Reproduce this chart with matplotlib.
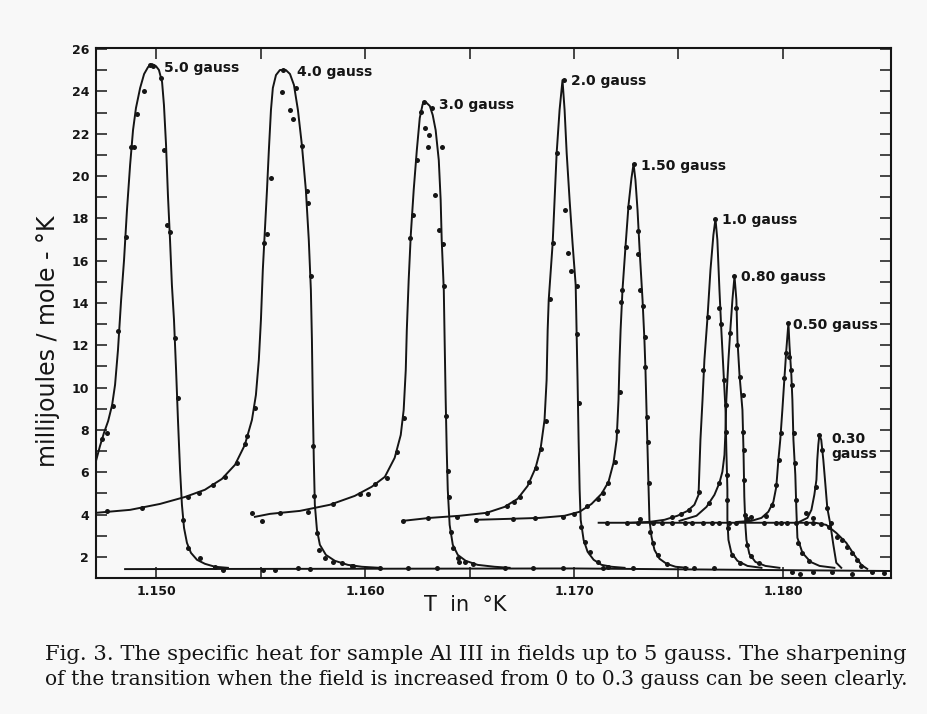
import matplotlib
matplotlib.use("Agg")
import matplotlib.pyplot as plt

# Calor especifico (mJ/mol-K) vs T (K), leido de la figura
# --- curvas (linea) y puntos medidos para cada campo ---
t_50 = [1.14713, 1.14732, 1.14751, 1.14771, 1.14790, 1.14804, 1.14818, 1.14833, 1.14847, 1.14861,
        1.14876, 1.14890, 1.14904, 1.14924, 1.14943, 1.14962, 1.14981, 1.15000, 1.15014, 1.15029,
        1.15038, 1.15048, 1.15057, 1.15067, 1.15076, 1.15086, 1.15096, 1.15105, 1.15115, 1.15124,
        1.15134, 1.15148, 1.15167, 1.15196, 1.15234, 1.15282, 1.15344]
c_50 = [6.54, 7.24, 7.86, 8.42, 9.18, 10.13, 11.78, 14.14, 16.03, 18.39,
        20.52, 22.17, 23.21, 24.16, 24.82, 25.15, 25.29, 25.19, 25.01, 24.44,
        23.35, 21.46, 19.10, 16.98, 14.85, 13.20, 10.83, 8.47, 6.11, 4.46,
        3.37, 2.66, 2.19, 1.86, 1.67, 1.53, 1.48]
pt_50 = [1.14742, 1.14766, 1.14794, 1.14818, 1.14857, 1.14880, 1.14895, 1.14909, 1.14943, 1.14971,
         1.14986, 1.15024, 1.15038, 1.15053, 1.15067, 1.15091, 1.15105, 1.15129, 1.15153, 1.15210,
         1.15282, 1.15320]
pc_50 = [7.57, 7.86, 9.13, 12.68, 17.12, 21.37, 21.37, 22.93, 24.01, 25.24,
         25.19, 24.63, 21.23, 17.68, 17.35, 12.35, 9.51, 3.75, 2.43, 1.95,
         1.53, 1.39]

t_40 = [1.14713, 1.14876, 1.15019, 1.15139, 1.15234, 1.15315, 1.15378, 1.15425, 1.15459, 1.15478,
        1.15492, 1.15502, 1.15511, 1.15521, 1.15531, 1.15540, 1.15550, 1.15559, 1.15574, 1.15593,
        1.15621, 1.15641, 1.15660, 1.15679, 1.15698, 1.15717, 1.15731, 1.15741, 1.15746, 1.15750,
        1.15755, 1.15760, 1.15770, 1.15784, 1.15813, 1.15856, 1.15918, 1.15985, 1.16071]
c_40 = [4.08, 4.22, 4.50, 4.83, 5.17, 5.68, 6.35, 7.29, 8.47, 9.65,
        11.31, 13.20, 15.56, 17.45, 19.34, 21.23, 23.12, 24.16, 24.77, 25.01,
        25.01, 24.82, 24.30, 23.12, 21.46, 19.34, 16.98, 14.61, 12.25, 9.42,
        6.58, 4.46, 3.28, 2.57, 2.09, 1.81, 1.62, 1.53, 1.48]
pt_40 = [1.14766, 1.14933, 1.15153, 1.15206, 1.15272, 1.15330, 1.15387, 1.15425, 1.15435, 1.15473,
         1.15516, 1.15531, 1.15550, 1.15602, 1.15607, 1.15641, 1.15655, 1.15669, 1.15698, 1.15722,
         1.15727, 1.15741, 1.15750, 1.15755, 1.15770, 1.15779, 1.15808, 1.15846, 1.15889, 1.15937]
pc_40 = [4.17, 4.31, 4.83, 5.02, 5.40, 5.78, 6.44, 7.34, 7.72, 9.04,
         16.83, 17.26, 19.90, 23.97, 25.01, 23.12, 22.69, 24.16, 21.42, 19.29,
         18.72, 15.27, 7.24, 4.88, 3.13, 2.33, 1.95, 1.76, 1.72, 1.57]

t_30 = [1.15473, 1.15545, 1.15688, 1.15832, 1.15951, 1.16032, 1.16095, 1.16142, 1.16171, 1.16185,
        1.16195, 1.16200, 1.16209, 1.16219, 1.16233, 1.16248, 1.16262, 1.16276, 1.16291, 1.16310,
        1.16324, 1.16338, 1.16353, 1.16362, 1.16367, 1.16377, 1.16381, 1.16386, 1.16391, 1.16396,
        1.16405, 1.16420, 1.16444, 1.16482, 1.16539, 1.16620, 1.16692]
c_30 = [3.89, 4.03, 4.17, 4.46, 4.88, 5.31, 5.78, 6.68, 7.76, 8.94,
        10.83, 12.72, 15.09, 17.21, 19.34, 21.23, 22.74, 23.40, 23.49, 23.31,
        22.88, 22.17, 20.75, 18.86, 16.98, 14.61, 12.25, 9.42, 7.05, 5.17,
        3.51, 2.57, 2.09, 1.81, 1.62, 1.53, 1.48]
pt_30 = [1.15459, 1.15507, 1.15593, 1.15727, 1.15846, 1.15975, 1.16013, 1.16047, 1.16104, 1.16152,
         1.16185, 1.16214, 1.16228, 1.16248, 1.16267, 1.16281, 1.16286, 1.16305, 1.16300, 1.16319,
         1.16367, 1.16334, 1.16353, 1.16372, 1.16377, 1.16386, 1.16396, 1.16401, 1.16410, 1.16420,
         1.16444, 1.16477, 1.16516]
pc_30 = [4.08, 3.70, 4.08, 4.13, 4.50, 4.98, 4.98, 5.45, 5.73, 6.96,
         8.57, 17.07, 18.16, 20.75, 23.02, 23.49, 22.27, 21.94, 21.37, 23.21,
         21.37, 19.10, 17.45, 16.79, 14.80, 8.66, 6.06, 4.83, 3.18, 2.43,
         1.95, 1.76, 1.67]

t_20 = [1.16181, 1.16310, 1.16453, 1.16582, 1.16668, 1.16730, 1.16778, 1.16816, 1.16840, 1.16859,
        1.16869, 1.16874, 1.16879, 1.16898, 1.16917, 1.16931, 1.16945, 1.16955, 1.16965, 1.16979,
        1.16993, 1.17008, 1.17012, 1.17017, 1.17022, 1.17027, 1.17032, 1.17046, 1.17065, 1.17094,
        1.17132, 1.17180, 1.17242]
c_20 = [3.70, 3.84, 3.94, 4.08, 4.36, 4.74, 5.35, 6.20, 7.10, 8.47,
        10.36, 12.72, 14.14, 16.83, 21.08, 23.12, 24.53, 23.12, 21.08, 18.86,
        16.83, 14.85, 12.87, 10.36, 7.53, 5.17, 3.75, 2.80, 2.24, 1.86,
        1.62, 1.53, 1.48]
pt_20 = [1.16181, 1.16300, 1.16439, 1.16582, 1.16678, 1.16711, 1.16740, 1.16783, 1.16816, 1.16840,
         1.16864, 1.16883, 1.16898, 1.16917, 1.16950, 1.16955, 1.16969, 1.16988, 1.17012, 1.17012,
         1.17022, 1.17032, 1.17055, 1.17075, 1.17113, 1.17161]
pc_20 = [3.70, 3.84, 3.89, 4.08, 4.41, 4.60, 4.83, 5.54, 6.20, 7.10,
         8.42, 14.19, 16.83, 21.08, 24.53, 18.39, 16.36, 15.51, 14.80, 12.53,
         9.27, 3.42, 2.71, 2.24, 1.76, 1.53]

t_15 = [1.16530, 1.16706, 1.16836, 1.16955, 1.17027, 1.17084, 1.17132, 1.17165, 1.17189, 1.17204,
        1.17213, 1.17218, 1.17223, 1.17232, 1.17247, 1.17261, 1.17275, 1.17285, 1.17294, 1.17304,
        1.17314, 1.17328, 1.17337, 1.17342, 1.17347, 1.17352, 1.17357, 1.17361, 1.17371, 1.17385,
        1.17409, 1.17443, 1.17486, 1.17543]
c_15 = [3.75, 3.80, 3.84, 3.94, 4.13, 4.50, 4.98, 5.54, 6.44, 7.53,
        9.42, 11.31, 12.72, 14.61, 16.74, 18.63, 19.90, 20.57, 19.81, 18.39,
        16.50, 14.14, 12.25, 10.83, 8.94, 7.05, 5.17, 3.75, 2.94, 2.33,
        1.91, 1.67, 1.53, 1.48]
pt_15 = [1.16530, 1.16706, 1.16812, 1.16945, 1.16998, 1.17060, 1.17113, 1.17137, 1.17165, 1.17194,
         1.17208, 1.17218, 1.17227, 1.17232, 1.17251, 1.17261, 1.17285, 1.17304, 1.17304, 1.17314,
         1.17328, 1.17342, 1.17342, 1.17347, 1.17352, 1.17357, 1.17366, 1.17376, 1.17400, 1.17443]
pc_15 = [3.75, 3.80, 3.84, 3.89, 4.03, 4.41, 4.74, 5.02, 5.50, 6.49,
         7.95, 9.79, 14.05, 14.61, 16.64, 18.53, 20.57, 17.40, 16.31, 14.61,
         13.86, 12.39, 10.98, 8.61, 7.43, 5.50, 3.18, 2.66, 2.09, 1.67]

t_10 = [1.17266, 1.17361, 1.17433, 1.17495, 1.17543, 1.17576, 1.17596, 1.17600, 1.17605, 1.17615,
        1.17624, 1.17639, 1.17653, 1.17667, 1.17677, 1.17686, 1.17696, 1.17705, 1.17715, 1.17725,
        1.17729, 1.17734, 1.17734, 1.17739, 1.17753, 1.17782, 1.17830, 1.17897]
c_10 = [3.61, 3.65, 3.75, 3.94, 4.17, 4.46, 4.93, 6.11, 7.53, 9.42,
        11.31, 13.34, 15.56, 17.21, 17.97, 16.98, 14.61, 12.72, 10.83, 8.94,
        7.05, 5.17, 3.75, 2.80, 2.19, 1.81, 1.57, 1.48]
pt_10 = [1.17467, 1.17510, 1.17552, 1.17600, 1.17619, 1.17639, 1.17677, 1.17696, 1.17705, 1.17720,
         1.17725, 1.17729, 1.17734, 1.17734, 1.17739, 1.17758, 1.17792]
pc_10 = [3.89, 4.03, 4.22, 5.07, 10.83, 13.34, 17.97, 13.76, 13.01, 10.36,
         9.18, 7.91, 5.87, 4.69, 3.37, 2.09, 1.72]

t_08 = [1.17505, 1.17586, 1.17634, 1.17672, 1.17696, 1.17710, 1.17720, 1.17725, 1.17729, 1.17739,
        1.17748, 1.17758, 1.17768, 1.17777, 1.17782, 1.17792, 1.17806, 1.17811, 1.17815, 1.17820,
        1.17825, 1.17839, 1.17868, 1.17916, 1.17983]
c_08 = [3.70, 3.94, 4.36, 4.93, 5.50, 6.02, 6.82, 8.00, 9.42, 11.31,
        12.72, 14.14, 15.27, 14.14, 12.25, 10.60, 8.94, 7.05, 4.83, 3.51,
        2.80, 2.14, 1.76, 1.57, 1.48]
pt_08 = [1.17648, 1.17696, 1.17748, 1.17768, 1.17777, 1.17782, 1.17796, 1.17811, 1.17811, 1.17815,
         1.17815, 1.17820, 1.17830, 1.17849, 1.17887]
pc_08 = [4.55, 5.50, 12.58, 15.27, 13.76, 12.01, 10.50, 9.65, 7.91, 7.05,
         5.64, 3.98, 2.57, 2.05, 1.72]

t_05 = [1.17782, 1.17849, 1.17897, 1.17930, 1.17954, 1.17968, 1.17978, 1.17987, 1.17997, 1.18007,
        1.18016, 1.18026, 1.18031, 1.18040, 1.18045, 1.18050, 1.18059, 1.18064, 1.18069, 1.18093,
        1.18132, 1.18175, 1.18246]
c_05 = [3.65, 3.70, 3.84, 4.13, 4.60, 5.31, 6.58, 7.53, 8.94, 10.46,
        11.78, 13.05, 12.01, 10.60, 9.42, 7.53, 5.87, 4.22, 2.90, 2.19,
        1.76, 1.57, 1.48]
pt_05 = [1.17921, 1.17949, 1.17968, 1.17983, 1.17992, 1.18007, 1.18016, 1.18026, 1.18031, 1.18040,
         1.18045, 1.18054, 1.18059, 1.18064, 1.18074, 1.18093, 1.18126]
pc_05 = [3.94, 4.46, 5.40, 6.58, 7.86, 10.46, 11.64, 13.05, 11.45, 10.83,
         10.13, 7.86, 6.44, 4.69, 2.66, 2.19, 1.81]

t_03 = [1.18078, 1.18117, 1.18136, 1.18150, 1.18160, 1.18164, 1.18169, 1.18174, 1.18183, 1.18193,
        1.18203, 1.18212, 1.18227, 1.18241, 1.18255, 1.18279]
c_03 = [3.65, 3.84, 4.22, 4.93, 5.64, 6.58, 7.29, 7.76, 7.53, 6.58,
        5.40, 4.31, 3.51, 2.57, 1.72, 1.48]
pt_03 = [1.18112, 1.18145, 1.18160, 1.18174, 1.18188, 1.18212, 1.18231]
pc_03 = [4.08, 3.84, 5.31, 7.76, 7.05, 4.31, 3.61]

# campo cero (transicion a 1.1835 K)
t_00 = [1.17118, 1.18126, 1.18160, 1.18207, 1.18255, 1.18303, 1.18341, 1.18375, 1.18403]
c_00 = [3.61, 3.61, 3.60, 3.51, 3.13, 2.66, 2.09, 1.62, 1.43]
pt_00 = [1.17156, 1.17256, 1.17304, 1.17318, 1.17376, 1.17419, 1.17471, 1.17529, 1.17567, 1.17615,
         1.17658, 1.17696, 1.17744, 1.17777, 1.17830, 1.17849, 1.17911, 1.17968, 1.17992, 1.18021,
         1.18064, 1.18112, 1.18145, 1.18183, 1.18222, 1.18260, 1.18284, 1.18308, 1.18332, 1.18356,
         1.18375]
pc_00 = [3.61, 3.61, 3.61, 3.80, 3.61, 3.61, 3.61, 3.61, 3.61, 3.61,
         3.61, 3.61, 3.61, 3.61, 3.80, 3.90, 3.61, 3.61, 3.61, 3.61,
         3.61, 3.61, 3.61, 3.55, 3.42, 2.94, 2.80, 2.47, 2.19, 1.86,
         1.57]

# estado normal
t_n = [1.14852, 1.17000, 1.18510]
c_n = [1.42, 1.45, 1.33]
pt_n = [1.15511, 1.15569, 1.15679, 1.15736, 1.15942, 1.16071, 1.16205, 1.16343, 1.16448, 1.16668,
        1.16802, 1.16945, 1.17137, 1.17280, 1.17529, 1.17576, 1.17672, 1.18045, 1.18083, 1.18145,
        1.18236, 1.18332, 1.18427, 1.18485]
pc_n = [1.39, 1.39, 1.45, 1.43, 1.55, 1.48, 1.48, 1.48, 1.76, 1.48,
        1.48, 1.45, 1.45, 1.45, 1.45, 1.45, 1.45, 1.29, 1.20, 1.29,
        1.29, 1.20, 1.29, 1.25]

etiquetas = ["5.0 gauss", "4.0 gauss", "3.0 gauss", "2.0 gauss", "1.50 gauss",
             "1.0 gauss", "0.80 gauss", "0.50 gauss", "0.30\ngauss"]
etiq_t = [1.15038, 1.15674, 1.16353, 1.16984, 1.17323, 1.17710, 1.17801, 1.18050, 1.18231]
etiq_c = [25.10, 24.91, 23.35, 24.49, 20.47, 17.92, 15.23, 12.96, 7.20]

xticks = [1.150, 1.155, 1.160, 1.165, 1.170, 1.175, 1.180]
xticklabels = ["1.150", "", "1.160", "", "1.170", "", "1.180"]
yticks = [2, 4, 6, 8, 10, 12, 14, 16, 18, 20, 22, 24, 26]

pie = ["Fig. 3. The specific heat for sample Al III in fields up to 5 gauss. The sharpening",
       "of the transition when the field is increased from 0 to 0.3 gauss can be seen clearly."]


fondo = "#f8f8f8"
tinta = "#151515"

fig = plt.figure(figsize=(9.27, 7.14), dpi=100, facecolor=fondo)
ax = fig.add_axes([0.1036, 0.1905, 0.8576, 0.7423], facecolor=fondo)

lineas = [(t_50, c_50), (t_40, c_40), (t_30, c_30), (t_20, c_20), (t_15, c_15),
          (t_10, c_10), (t_08, c_08), (t_05, c_05), (t_03, c_03), (t_00, c_00), (t_n, c_n)]
puntos = [(pt_50, pc_50), (pt_40, pc_40), (pt_30, pc_30), (pt_20, pc_20), (pt_15, pc_15),
          (pt_10, pc_10), (pt_08, pc_08), (pt_05, pc_05), (pt_03, pc_03), (pt_00, pc_00), (pt_n, pc_n)]

for t, c in lineas:
    ax.plot(t, c, color=tinta, lw=1.4, solid_joinstyle="round")
for t, c in puntos:
    ax.plot(t, c, "o", color=tinta, ms=3.6, mew=0)

for txt, t, c in zip(etiquetas, etiq_t, etiq_c):
    ax.text(t, c, txt, fontsize=10, fontweight="bold", color=tinta,
            ha="left", va="center", linespacing=1.1)

ax.set_xlim(1.14713, 1.18517)
ax.set_ylim(1.0, 26.05)
ax.set_xticks(xticks)
ax.set_xticklabels(xticklabels)
ax.set_yticks(yticks)
ax.set_yticks([y + 1 for y in yticks[:-1]], minor=True)
ax.tick_params(which="both", direction="in", length=8, width=1.1, top=True, right=True,
               labelsize=9, colors=tinta, pad=5)
for lab in ax.get_xticklabels() + ax.get_yticklabels():
    lab.set_fontweight("bold")
for s in ax.spines.values():
    s.set_linewidth(1.5)
    s.set_color(tinta)

ax.set_ylabel("millijoules / mole - °K", fontsize=17, color=tinta)
ax.yaxis.set_label_coords(-0.045, 0.447)
ax.set_xlabel("T  in  °K", fontsize=15, color=tinta)
ax.xaxis.set_label_coords(0.465, -0.032)

# pie de figura, dos renglones; se ajusta el tamaño para que ocupe el ancho del original
fig.canvas.draw()
render = fig.canvas.get_renderer()
ancho_px = 865.0
for i, renglon in enumerate(pie):
    txt = fig.text(0.049, 0.083 - i * 0.034, renglon, fontsize=15, family="DejaVu Serif",
                   color=tinta, ha="left", va="center")
    w = txt.get_window_extent(renderer=render).width
    txt.set_fontsize(15 * ancho_px / w)

fig.savefig("out.png", dpi=100, facecolor=fondo)
